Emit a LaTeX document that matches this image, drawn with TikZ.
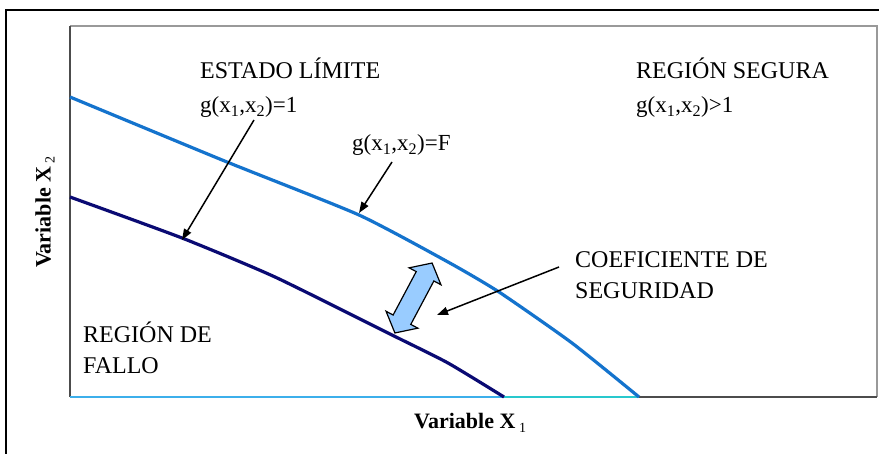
\documentclass[tikz,border=0pt]{standalone}
\usepackage{fontspec}
\setmainfont{Liberation Serif}
\usetikzlibrary{arrows.meta,calc}
\definecolor{curveF}{RGB}{20,115,205}
\definecolor{curveOne}{RGB}{10,10,115}
\definecolor{axisA}{RGB}{60,175,235}
\definecolor{axisB}{RGB}{40,200,205}
\definecolor{dafill}{RGB}{153,204,255}
\begin{document}
\begin{tikzpicture}[x=1pt,y=-1pt,
  lbl/.style={font=\fontsize{24}{31}\selectfont, inner sep=0pt, align=left},
  glbl/.style={font=\fontsize{23}{28}\selectfont, inner sep=0pt, anchor=base west},
  pointer/.style={line width=1.5pt, -{Triangle[length=11pt,width=8pt]}},
  axlbl/.style={font=\fontsize{22}{26}\selectfont\bfseries, inner sep=0pt}]
\useasboundingbox (0,0) rectangle (879,454);
\fill[white] (0,0) rectangle (879,454);
% outer frame
\draw[line width=1.3pt] (6,454) -- (6,10) -- (879,10);
% plot box
\draw[line width=1.3pt, black!40] (70,26) -- (877,26) -- (877,397);
\draw[line width=2pt, black!70] (70,397) -- (70,26);
\draw[line width=2pt, black!70] (639,397) -- (877,397);
\draw[line width=2pt, axisA] (70,397) -- (504,397);
\draw[line width=2pt, axisB] (504,397) -- (639,397);
% curves
\draw[curveF, line width=3.2pt] plot[smooth, tension=0.35] coordinates {(70,97) (227,162) (359,215) (448,262) (499,292) (572,343) (639,397)};
\draw[curveOne, line width=3.2pt] plot[smooth, tension=0.35] coordinates {(70,197) (182,238) (275,277) (392,335) (448,363) (504,397)};
% labels
\node[lbl, anchor=base west] (estado) at (200,79) {ESTADO LÍMITE};
\node[glbl] (gone) at (200,113) {g(x\textsubscript{1},x\textsubscript{2})=1};
\node[glbl] (gF) at (352,151) {g(x\textsubscript{1},x\textsubscript{2})=F};
\node[lbl, anchor=base west] (segura) at (636,79) {REGIÓN SEGURA};
\node[glbl] (gsafe) at (636,113) {g(x\textsubscript{1},x\textsubscript{2})>1};
\node[lbl, anchor=west] (coef) at (575,275.5) {COEFICIENTE DE\\SEGURIDAD};
\node[lbl, anchor=west] (fallo) at (83,348) {REGIÓN DE\\FALLO};
\node[axlbl, anchor=base west] (xlab) at (414,429) {Variable X\,\raisebox{-4pt}{\mdseries\fontsize{14}{14}\selectfont 1}};
\node[axlbl, rotate=90] (ylab) at (45,212) {Variable X\,\raisebox{-4pt}{\mdseries\fontsize{14}{14}\selectfont 2}};
% pointers
\coordinate (gonetail) at (254,120);
\coordinate (gonetip) at (182,240);
\coordinate (gFtail) at (392,162);
\coordinate (gFtip) at (359,213);
\coordinate (coeftail) at (559,267);
\coordinate (coeftip) at (437,315);
\draw[pointer] (gonetail) -- (gonetip);
\draw[pointer] (gFtail) -- (gFtip);
\draw[pointer] (coeftail) -- (coeftip);
% double arrow (safety margin)
\begin{scope}[shift={(413.5,298)}, rotate=62]
\draw[line width=1.2pt, fill=dafill, line join=miter] (39.6,0) -- (24.6,18) -- (24.6,10) -- (-24.6,10) -- (-24.6,18) -- (-39.6,0) -- (-24.6,-18) -- (-24.6,-10) -- (24.6,-10) -- (24.6,-18) -- cycle;
\end{scope}
\end{tikzpicture}
\end{document}
